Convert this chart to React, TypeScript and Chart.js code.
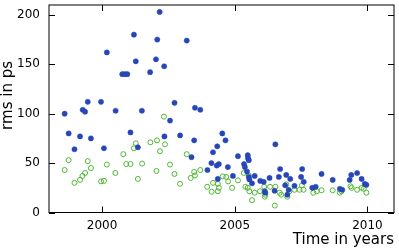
import React, { useEffect, useRef } from 'react';
import { Chart, registerables } from 'chart.js';

Chart.register(...registerables);

// Blue (filled) series: time in years, rms in ps
const blueYears = [
  1998.59, 1998.74, 1998.96, 1999.17, 1999.27, 1999.36, 1999.46, 1999.58, 1999.96, 2000.07,
  2000.18, 2000.51, 2000.76, 2000.86, 2000.95, 2001.07, 2001.2, 2001.27, 2001.35, 2001.5,
  2001.81, 2002.03, 2002.08, 2002.17, 2002.34, 2002.35, 2002.56, 2002.73, 2002.94, 2003.19,
  2003.37, 2003.47, 2003.5, 2003.7, 2003.97, 2004.12, 2004.18, 2004.32, 2004.34, 2004.36,
  2004.4, 2004.53, 2004.65, 2004.74, 2004.93, 2005.12, 2005.35, 2005.38, 2005.46, 2005.49,
  2005.5, 2005.53, 2005.53, 2005.55, 2005.65, 2005.75, 2005.96, 2006.09, 2006.13, 2006.15,
  2006.31, 2006.5, 2006.53, 2006.66, 2006.71, 2006.9, 2006.94, 2006.98, 2007.03, 2007.09,
  2007.25, 2007.5, 2007.54, 2007.6, 2007.92, 2008.05, 2008.27, 2008.69, 2008.96, 2009.05,
  2009.33, 2009.39, 2009.61, 2009.78, 2009.9, 2009.96,
];
const blueRms = [
  100, 80, 64, 77, 104, 102, 112, 75, 112, 65,
  162, 103, 140, 140, 140, 81, 180, 153, 66, 103,
  142, 155, 175, 203, 148, 77, 93, 111, 78, 174,
  56, 73, 106, 104, 43, 50, 61, 47.5, 67, 34,
  49, 80, 73, 46, 37, 57, 49, 46, 41.5, 58,
  55, 53, 36, 33.5, 29.5, 37, 32, 31, 21.5, 20,
  35, 22, 69, 36, 44, 27.5, 38, 18, 23, 34,
  27, 36, 44, 31, 25, 26, 39, 33, 24, 23,
  33, 38, 40, 34, 29, 28,
];

// Green (open) series
const greenYears = [
  1998.59, 1998.74, 1998.96, 1999.17, 1999.26, 1999.36, 1999.46, 1999.58, 1999.96, 2000.07,
  2000.18, 2000.5, 2000.8, 2000.91, 2001.07, 2001.2, 2001.27, 2001.35, 2001.51, 2001.82,
  2002.05, 2002.07, 2002.18, 2002.33, 2002.37, 2002.56, 2002.73, 2002.94, 2003.19, 2003.34,
  2003.47, 2003.5, 2003.7, 2003.96, 2004.13, 2004.18, 2004.36, 2004.36, 2004.4, 2004.55,
  2004.68, 2004.75, 2004.9, 2005.12, 2005.34, 2005.4, 2005.49, 2005.53, 2005.55, 2005.65,
  2005.75, 2005.95, 2006.11, 2006.13, 2006.15, 2006.33, 2006.51, 2006.53, 2006.69, 2006.75,
  2006.94, 2006.98, 2007.06, 2007.25, 2007.44, 2007.53, 2007.59, 2007.96, 2008.09, 2008.27,
  2008.69, 2008.96, 2009.02, 2009.36, 2009.4, 2009.61, 2009.78, 2009.86, 2009.96,
];
const greenRms = [
  43, 53, 30, 33, 37, 40, 52, 45, 31.5, 32,
  48.5, 40, 59, 49, 49, 65, 70, 34, 49.5, 71,
  42, 73, 62, 97, 69, 48.5, 39, 29, 59, 35,
  41, 37.5, 43, 26, 21, 30, 29, 21.5, 25, 36.5,
  36, 31.5, 25, 32.5, 40, 26, 25, 37.5, 21.5, 12.5,
  20, 21.5, 26, 16, 18, 26, 7, 26, 20, 18,
  28.5, 16, 21.5, 23, 23, 27.5, 23, 20, 21.5, 22.5,
  22.5, 20, 21.5, 26.5, 25, 23, 25, 24, 20,
];

const xTickLabels = [2000, 2005, 2010];
const yTickLabels = [0, 50, 100, 150, 200];
const xTitle = 'Time in years';
const yTitle = 'rms in ps';

const FONT = '"DejaVu Sans", sans-serif';

const framePlugin = {
  id: 'frameTicks',
  afterDraw(chart: any) {
    const { ctx, chartArea, scales } = chart;
    const { left, right, top, bottom } = chartArea;
    const x = scales.x;
    const y = scales.y;
    ctx.save();
    ctx.strokeStyle = '#000';
    ctx.lineWidth = 1;
    ctx.strokeRect(left, top, right - left, bottom - top);
    ctx.beginPath();
    x.ticks.forEach((t: any) => {
      const px = Math.round(x.getPixelForValue(t.value)) + 0.5;
      const len = xTickLabels.includes(t.value) ? 6 : 3;
      ctx.moveTo(px, bottom);
      ctx.lineTo(px, bottom - len);
      ctx.moveTo(px, top);
      ctx.lineTo(px, top + len);
    });
    y.ticks.forEach((t: any) => {
      const py = Math.round(y.getPixelForValue(t.value)) + 0.5;
      const len = yTickLabels.includes(t.value) ? 6 : 3;
      ctx.moveTo(left, py);
      ctx.lineTo(left + len, py);
      ctx.moveTo(right, py);
      ctx.lineTo(right - len, py);
    });
    ctx.stroke();

    ctx.fillStyle = '#000';
    ctx.font = `15px ${FONT}`;
    ctx.textBaseline = 'alphabetic';
    ctx.textAlign = 'right';
    ctx.fillText(xTitle, right, 243.5);

    ctx.translate(12, 61);
    ctx.rotate(-Math.PI / 2);
    ctx.textAlign = 'right';
    ctx.fillText(yTitle, 0, 0);
    ctx.restore();
  },
};

export default function App() {
  const ref = useRef<HTMLCanvasElement>(null);

  useEffect(() => {
    document.body.style.margin = '0';
    const canvas = ref.current;
    if (!canvas) return;
    const blue = blueYears.map((v, i) => ({ x: v, y: blueRms[i] }));
    const green = greenYears.map((v, i) => ({ x: v, y: greenRms[i] }));
    const chart = new Chart(canvas, {
      type: 'scatter',
      data: {
        datasets: [
          {
            data: blue,
            pointStyle: 'circle',
            pointRadius: 2.6,
            pointBackgroundColor: '#2746b8',
            pointBorderColor: '#2746b8',
            pointBorderWidth: 0.5,
          },
          {
            data: green,
            pointStyle: 'circle',
            pointRadius: 2.5,
            pointBackgroundColor: 'rgba(0,0,0,0)',
            pointBorderColor: '#4fb832',
            pointBorderWidth: 1,
          },
        ],
      },
      options: {
        responsive: false,
        animation: false,
        layout: { padding: { left: 0, right: 3, top: 3, bottom: 0 } },
        plugins: { legend: { display: false }, tooltip: { enabled: false } },
        scales: {
          x: {
            type: 'linear',
            min: 1998,
            max: 2011,
            grid: { display: false, drawTicks: false },
            border: { display: false },
            ticks: {
              stepSize: 1,
              autoSkip: false,
              maxRotation: 0,
              padding: 6,
              color: '#000',
              font: { family: FONT, size: 12 },
              callback: (v: any) => (xTickLabels.includes(Number(v)) ? String(v) : null),
            },
            afterFit: (s: any) => {
              s.height = 36.5;
              s.paddingLeft = 0;
              s.paddingRight = 0;
            },
          },
          y: {
            type: 'linear',
            min: 0,
            max: 210,
            grid: { display: false, drawTicks: false },
            border: { display: false },
            ticks: {
              stepSize: 10,
              autoSkip: false,
              padding: 9,
              color: '#000',
              font: { family: FONT, size: 12 },
              callback: (v: any) => (yTickLabels.includes(Number(v)) ? String(v) : null),
            },
            afterFit: (s: any) => {
              s.width = 49;
              s.paddingTop = 0;
              s.paddingBottom = 0;
            },
          },
        },
      },
      plugins: [framePlugin],
    });
    return () => chart.destroy();
  }, []);

  return (
    <div style={{ width: 399, height: 249 }}>
      <canvas ref={ref} width={399} height={249} />
    </div>
  );
}
